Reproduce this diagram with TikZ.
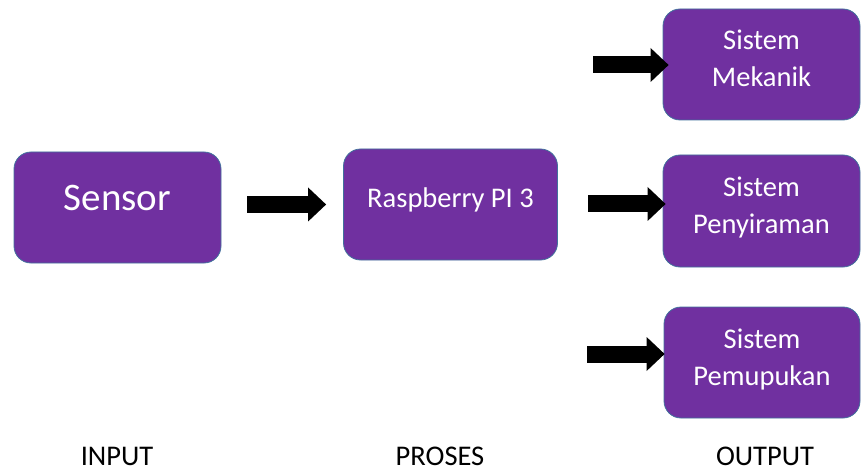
\documentclass[tikz,border=0pt]{standalone}
\usepackage{fontspec}
\setmainfont{Carlito}
\usetikzlibrary{arrows.meta,positioning}
\definecolor{boxpurple}{HTML}{7030A0}
\definecolor{boxline}{HTML}{41719C}
% text inside a box, last baseline moved by #1 from the centre
\newcommand{\boxtext}[2]{\smash{\raisebox{#1}{\begin{tabular}[b]{@{}c@{}}#2\end{tabular}}}}
\tikzset{
  blok/.style={rectangle, draw=boxline, line width=0.8pt, rounded corners=17pt,
               fill=boxpurple, text=white, inner sep=0pt,
               font=\fontsize{28.5}{37}\selectfont},
  lbl/.style={anchor=base, inner sep=0pt, font=\fontsize{28.5}{34}\selectfont},
  arr/.style={line width=17pt, -{Triangle[width=34pt 0 0, length=18pt 0 0, line width=0pt]}}
}
\begin{document}
\begin{tikzpicture}[x=1pt, y=-1pt]
  \useasboundingbox (0,0) rectangle (861,470);
  \node[blok, minimum width=207pt, minimum height=111pt,
        font=\fontsize{39}{47}\selectfont] (sensor) at (117.5,207.5) {\boxtext{-3.5pt}{Sensor}};
  \node[blok, minimum width=214pt, minimum height=111pt] (rasp) at (450.5,204.5) {\boxtext{-2.5pt}{Raspberry PI 3}};
  \node[blok, minimum width=197pt, minimum height=111pt] (mek) at (761.5,64.5) {\boxtext{-22.5pt}{Sistem\\Mekanik}};
  \node[blok, minimum width=197pt, minimum height=112pt] (peny) at (761.5,211) {\boxtext{-22.5pt}{Sistem\\Penyiraman}};
  \node[blok, minimum width=196pt, minimum height=111pt] (pemu) at (762,362.5) {\boxtext{-22.5pt}{Sistem\\Pemupukan}};
  % arrows
  \draw[arr, shorten <=26pt, shorten >=17pt] (sensor.east |- rasp.west) -- (rasp.west);
  \coordinate (o1) at (593,65);
  \coordinate (o2) at (588,204);
  \coordinate (o3) at (587,354);
  \draw[arr, shorten >=-6pt] (o1) -- (o1 -| mek.west);
  \draw[arr, shorten >=-3pt] (o2) -- (o2 -| peny.west);
  \draw[arr, shorten >=-1pt] (o3) -- (o3 -| pemu.west);
  % column labels
  \node[lbl] (inp) at (117,465) {INPUT};
  \node[lbl] (pros) at (440,465) {PROSES};
  \node[lbl] (outp) at (765,465) {OUTPUT};
\end{tikzpicture}
\end{document}
